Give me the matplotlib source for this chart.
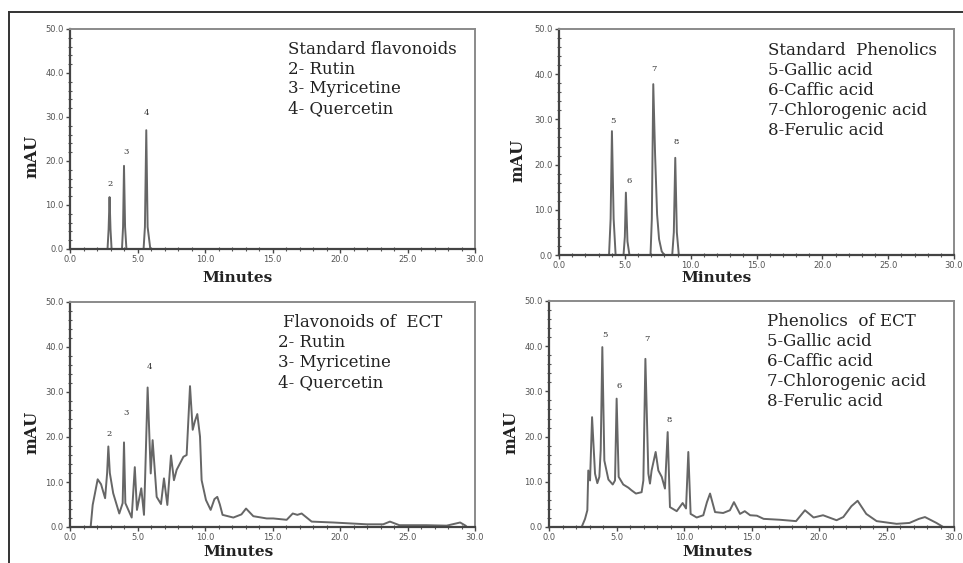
import matplotlib
matplotlib.use("Agg")
import matplotlib.pyplot as plt
from matplotlib.ticker import MultipleLocator, FormatStrFormatter
from matplotlib.lines import Line2D

# ---- chromatogram traces (time in min, signal in mAU) ----
std_flav_t = [0.0, 2.78, 2.86, 2.93, 3.0, 3.08, 3.85, 3.93, 4.0, 4.08, 4.18,
              5.45, 5.55, 5.65, 5.75, 5.95, 30.0]
std_flav_v = [0.0, 0.0, 4.5, 11.8, 4.5, 0.0, 0.0, 5.0, 18.9, 5.0, 0.0,
              0.0, 5.0, 27.0, 5.0, 0.0, 0.0]

std_phen_t = [0.0, 3.8, 3.92, 4.02, 4.15, 4.3, 4.9, 5.0, 5.08, 5.2, 5.35,
              6.95, 7.05, 7.16, 7.3, 7.45, 7.6, 7.8, 8.0, 8.6, 8.72, 8.83,
              8.95, 9.1, 30.0]
std_phen_v = [0.0, 0.0, 8.0, 27.4, 8.0, 0.0, 0.0, 4.0, 13.8, 3.0, 0.0,
              0.0, 8.0, 37.8, 22.0, 9.0, 3.5, 0.8, 0.0, 0.0, 5.0, 21.5,
              5.0, 0.0, 0.0]

ect_flav_t = [0.0, 1.53, 1.68, 1.85, 2.05, 2.3, 2.6, 2.75, 2.84, 2.95, 3.2,
              3.65, 3.9, 4.0, 4.1, 4.57, 4.8, 4.96, 5.28, 5.48, 5.56, 5.75,
              5.98, 6.12, 6.42, 6.74, 6.96, 7.21, 7.48, 7.7, 7.9, 8.4, 8.64,
              8.89, 9.09, 9.25, 9.43, 9.63, 9.75, 10.07, 10.42, 10.7, 10.91,
              11.1, 11.3, 12.1, 12.7, 13.04, 13.58, 14.57, 15.06, 16.05,
              16.5, 16.84, 17.16, 17.9, 19.5, 21.98, 23.2, 23.7, 24.4, 26.4,
              27.9, 28.9, 29.3, 29.4, 30.0]
ect_flav_v = [0.0, 0.0, 4.9, 7.5, 10.6, 9.5, 6.4, 12.0, 17.9, 12.0, 7.5,
              3.0, 5.3, 18.8, 5.3, 2.1, 13.3, 3.8, 8.6, 2.7, 10.4, 31.0,
              11.9, 19.3, 6.7, 5.1, 10.8, 4.9, 15.9, 10.4, 12.7, 15.6, 16.0,
              31.3, 21.6, 23.5, 25.1, 20.1, 10.4, 6.0, 3.8, 6.2, 6.7,
              5.0, 2.7, 2.1, 2.8, 4.1, 2.4, 1.9, 1.9, 1.6,
              3.0, 2.7, 3.0, 1.2, 1.0, 0.6, 0.6, 1.2, 0.4, 0.4,
              0.3, 1.0, 0.3, 0.0, 0.0]

ect_phen_t = [0.0, 2.42, 2.67, 2.84, 2.91, 3.04, 3.19, 3.41, 3.58, 3.73, 3.83,
              3.95, 4.1, 4.4, 4.72, 4.89, 5.01, 5.16, 5.5, 5.88, 6.12, 6.44,
              6.86, 6.99, 7.14, 7.36, 7.48, 7.6, 7.9, 8.1, 8.35, 8.59, 8.79,
              8.96, 9.46, 9.9, 10.15, 10.32, 10.49, 10.94, 11.43, 11.7, 11.93,
              12.3, 12.9, 13.4, 13.7, 14.15, 14.5, 14.9, 15.4, 15.9, 17.1,
              18.3, 18.96, 19.6, 20.3, 21.3, 21.8, 22.4, 22.86, 23.5, 24.27,
              25.75, 26.7, 27.4, 27.85, 28.7, 29.2, 30.0]
ect_phen_v = [0.0, 0.0, 1.8, 3.7, 12.5, 10.3, 24.3, 11.8, 9.7, 11.1, 17.0,
              39.8, 14.7, 10.5, 9.4, 10.3, 28.4, 11.1, 9.4, 8.7, 8.1, 7.4,
              7.7, 10.3, 37.2, 11.8, 9.6, 12.5, 16.6, 12.5, 11.1, 8.5, 21.0,
              4.4, 3.5, 5.3, 4.1, 16.6, 2.9, 2.1, 2.6, 5.5, 7.4,
              3.3, 3.1, 3.7, 5.5, 2.9, 3.5, 2.6, 2.5, 1.8, 1.6,
              1.3, 3.7, 2.1, 2.6, 1.5, 2.2, 4.6, 5.8, 2.9, 1.3,
              0.7, 0.9, 1.8, 2.2, 0.9, 0.0, 0.0]

# peak numbers: (label, time, height of label)
std_flav_labels = [("2", 2.96, 13.9), ("3", 4.12, 21.1), ("4", 5.68, 30.1)]
std_phen_labels = [("5", 4.07, 28.8), ("6", 5.32, 15.5), ("7", 7.21, 40.3), ("8", 8.93, 24.2)]
ect_flav_labels = [("2", 2.91, 19.7), ("3", 4.15, 24.4), ("4", 5.85, 34.7)]
ect_phen_labels = [("5", 4.15, 41.6), ("6", 5.21, 30.3), ("7", 7.28, 40.6), ("8", 8.89, 22.7)]

flav_names = ["2- Rutin", "3- Myricetine", "4- Quercetin"]
phen_names = ["5-Gallic acid", "6-Caffic acid", "7-Chlorogenic acid", "8-Ferulic acid"]

LINE = "#666666"
SERIF = ["DejaVu Serif"]

fig = plt.figure(figsize=(9.63, 5.63), dpi=100)

# outer frame of the scanned figure
fig.add_artist(Line2D([9/963, 1.0], [1-12/563, 1-12/563], color="#333333", lw=1.4))
fig.add_artist(Line2D([9/963, 9/963], [0.0, 1-12/563], color="#333333", lw=1.4))


def panel(rect, t, v, labels, title, names, tx, ty, lx, ylab_x, min_x, min_y):
    ax = fig.add_axes(rect)
    ax.plot(t, v, color=LINE, lw=1.4, solid_joinstyle="round")
    for lab, x, y in labels:
        ax.text(x, y, lab, fontsize=6, family=SERIF, color="#333333",
                ha="center", va="bottom")
    ax.set_xlim(0, 30)
    ax.set_ylim(0, 50)
    ax.xaxis.set_major_locator(MultipleLocator(5))
    ax.xaxis.set_minor_locator(MultipleLocator(1))
    ax.yaxis.set_major_locator(MultipleLocator(10))
    ax.yaxis.set_minor_locator(MultipleLocator(2))
    ax.xaxis.set_major_formatter(FormatStrFormatter("%.1f"))
    ax.yaxis.set_major_formatter(FormatStrFormatter("%.1f"))
    ax.tick_params(which="major", direction="out", length=3, width=1,
                   color="#444444", labelsize=6, labelcolor="#555555", pad=1.5)
    ax.tick_params(which="minor", direction="inout", length=3, width=0.8,
                   color="#555555")
    for side in ["left", "bottom"]:
        ax.spines[side].set_color("#444444")
        ax.spines[side].set_linewidth(1.6)
    for side in ["top", "right"]:
        ax.spines[side].set_color("#8a8a8a")
        ax.spines[side].set_linewidth(1.4)
    lines = [title] + names
    for i, s in enumerate(lines):
        x = tx if i == 0 else lx
        ax.text(x, ty - i * 0.0885, s, transform=ax.transAxes, fontsize=12,
                family=SERIF, color="#222222", va="center", ha="left")
    ax.text(ylab_x, 0.42, "mAU", transform=ax.transAxes, rotation=90,
            fontsize=11.5, family=SERIF, fontweight="bold", color="#222222",
            ha="center", va="center")
    ax.text(min_x, min_y, "Minutes", transform=ax.transAxes, fontsize=11,
            family=SERIF, fontweight="bold", color="#222222",
            ha="center", va="center")
    return ax


panel([70/963, 1-249/563, 405/963, 220/563], std_flav_t, std_flav_v,
      std_flav_labels, "Standard flavonoids", flav_names, 0.538, 0.905, 0.538,
      -0.093, 0.413, -0.132)
panel([559/963, 1-255/563, 395/963, 226/563], std_phen_t, std_phen_v,
      std_phen_labels, "Standard  Phenolics", phen_names, 0.53, 0.907, 0.53,
      -0.105, 0.40, -0.10)
panel([70/963, 1-527/563, 405/963, 225/563], ect_flav_t, ect_flav_v,
      ect_flav_labels, "Flavonoids of  ECT", flav_names, 0.525, 0.908, 0.514,
      -0.093, 0.415, -0.11)
panel([549/963, 1-527/563, 405/963, 226/563], ect_phen_t, ect_phen_v,
      ect_phen_labels, "Phenolics  of ECT", phen_names, 0.539, 0.908, 0.539,
      -0.093, 0.415, -0.11)

fig.savefig("out.png", dpi=100)
